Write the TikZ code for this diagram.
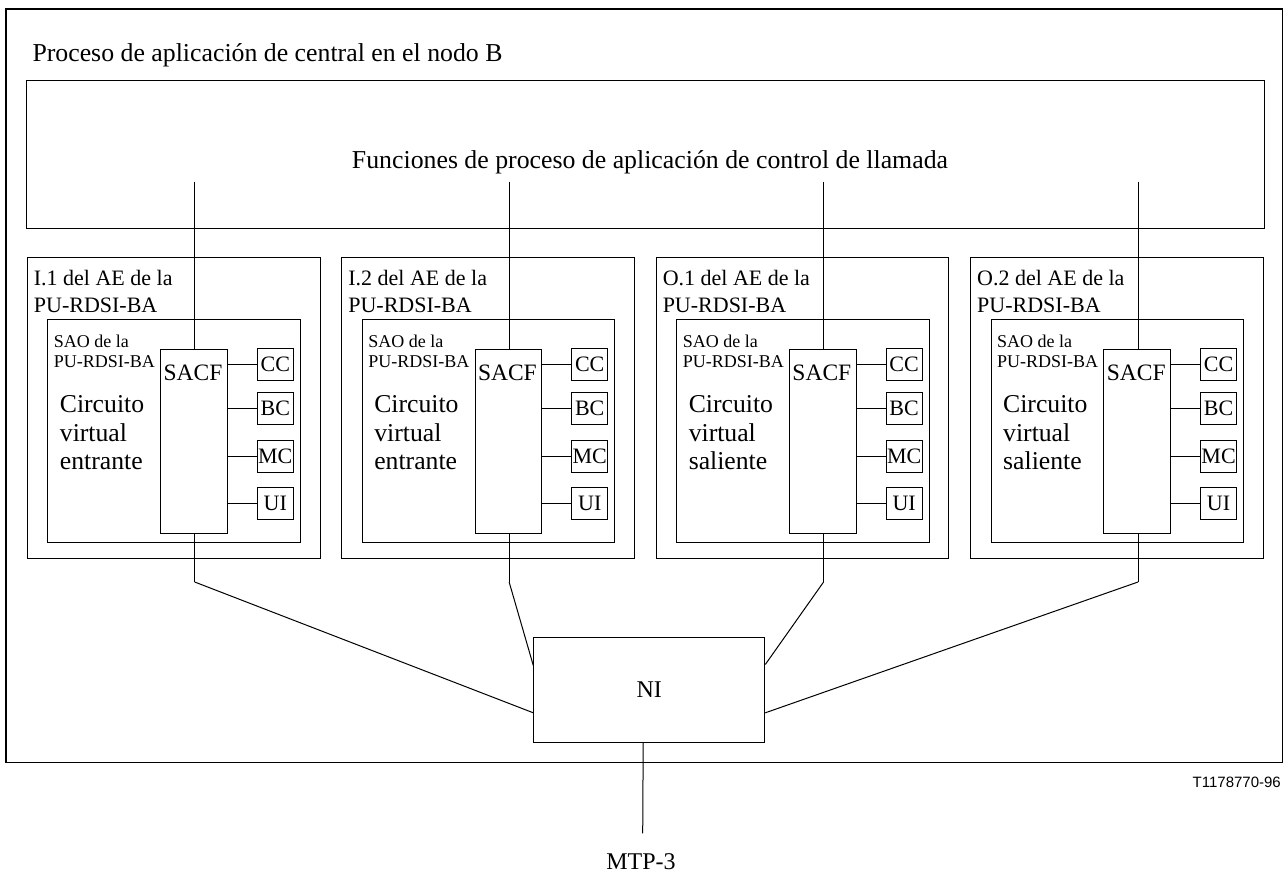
\documentclass[tikz,border=0pt]{standalone}
\usepackage{fontspec}
\setmainfont{Liberation Serif}
\newfontfamily\figsans{Liberation Sans}
\newcommand\fsz[1]{\fontsize{#1}{#1}\selectfont}
\begin{document}
\begin{tikzpicture}[x=1pt,y=-1pt,
  box/.style={draw, line width=1pt, inner sep=0pt, anchor=north west},
  smallbox/.style={draw, line width=1pt, inner sep=0pt, minimum width=36pt, minimum height=31.5pt, font=\fsz{22}},
  txt/.style={inner sep=0pt, anchor=base west},
  blocktxt/.style={inner sep=0pt, anchor=north west, align=left},
  wire/.style={line width=1pt}]
\useasboundingbox (0,0) rectangle (1283,873);

% frame of the exchange application process
\node[box, line width=1.3pt, minimum width=1276.7pt, minimum height=753.7pt] (outer) at (5.3,8.3) {};
\node[txt, font=\fsz{25.8}] (title) at (32.3,61.7) {Proceso de aplicación de central en el nodo B};

% call control functions
\node[box, minimum width=1238.3pt, minimum height=147.7pt] (cpf) at (26,80) {};
\node[inner sep=0pt, anchor=base, font=\fsz{25.8}] (cpftext) at (650,168) {Funciones de proceso de aplicación de control de llamada};

% the four application entities
\foreach \i/\aename/\kind in {1/I.1/entrante, 2/I.2/entrante, 3/O.1/saliente, 4/O.2/saliente} {
  \pgfmathsetmacro\px{26.7+314.43*(\i-1)}
  \begin{scope}[xshift=\px pt]
    \node[box, minimum width=292.8pt, minimum height=300.2pt] (ae\i) at (0,257.3) {};
    \node[blocktxt, font=\fontsize{22}{26.7}\selectfont] (aelab\i) at (7,270) {\aename\ del AE de la\\PU-RDSI-BA};
    \node[box, minimum width=252.8pt, minimum height=222.7pt] (sao\i) at (20.5,319.3) {};
    \node[blocktxt, font=\fontsize{18}{20.5}\selectfont] (saolab\i) at (27,334.5) {SAO de la\\PU-RDSI-BA};
    \node[box, minimum width=66.7pt, minimum height=183.7pt] (sacf\i) at (133.4,349) {};
    \node[txt, font=\fsz{23.5}] (sacft\i) at (136.7,380) {SACF};
    \node[blocktxt, font=\fontsize{25.7}{28.5}\selectfont] (circ\i) at (33,395.6) {Circuito\\virtual\\\kind};
    \foreach \n/\yc in {CC/364.6, BC/408.5, MC/456.7, UI/503.3} {
      \node[smallbox] (\n\i) at (248.6,\yc) {\n};
      \draw[wire] (sacf\i.east |- \n\i.west) -- (\n\i.west);
    }
    \coordinate (up\i) at (168,181.7);
    \draw[wire] (up\i) -- (up\i |- sacf\i.north);
    \coordinate (bend\i) at (168,582);
    \draw[wire] (bend\i |- sacf\i.south) -- (bend\i);
  \end{scope}
}

% network interface
\node[box, minimum width=231pt, minimum height=105pt, font=\fsz{24}] (ni) at (533.3,636.7) {NI};
\draw[wire] (bend1) -- ([yshift=-23.1pt]ni.west);
\draw[wire] (bend2) -- ([yshift=24.2pt]ni.west);
\draw[wire] (bend3) -- ([yshift=25.2pt]ni.east);
\draw[wire] (bend4) -- ([yshift=-23.1pt]ni.east);

% link to MTP-3
\node[inner sep=0pt, font=\fsz{24}] (mtp) at (641,861.7) {MTP-3};
\draw[wire] ([xshift=-6.1pt]ni.south) -- ([xshift=1.7pt, yshift=20pt]mtp.north);

\node[inner sep=0pt, anchor=east, font=\figsans\fsz{15}] (tag) at (1281,782) {T1178770-96};
\end{tikzpicture}
\end{document}
